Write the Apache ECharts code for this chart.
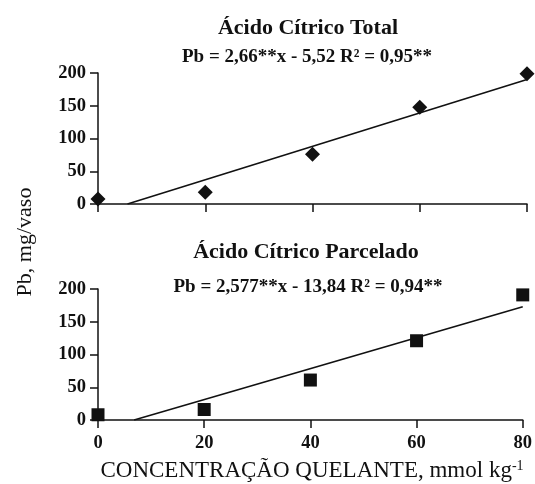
<!DOCTYPE html>
<html><head><meta charset="utf-8">
<script src="https://cdn.jsdelivr.net/npm/echarts@6/dist/echarts.min.js"></script>
<style>html,body{margin:0;padding:0;background:#fff}#c{width:535px;height:484px}</style>
</head><body><div id="c"></div>
<script>
const concentrations = [0, 20, 40, 60, 80];
const pbTotal = [7.6, 17.8, 76, 147.7, 198.8];
const pbParcelado = [8, 16, 61, 121, 191];
const fitTotalX = [5.5, 80];
const fitTotalY = [0, 190];
const fitParceladoX = [6.8, 80];
const fitParceladoY = [0, 173];
const xTickLabels = ['0', '20', '40', '60', '80'];
const titles = ['Ácido Cítrico Total', 'Ácido Cítrico Parcelado'];
const equations = ['Pb = 2,66**x - 5,52 R² = 0,95**', 'Pb = 2,577**x - 13,84 R² = 0,94**'];
const yName = 'Pb, mg/vaso';
const xName = 'CONCENTRAÇÃO QUELANTE, mmol kg';
const xNameSup = '-1';

const SERIF = '"Liberation Serif","Times New Roman",serif';
const zip = (a, b) => a.map((v, i) => [v, b[i]]);

function xAx(i, showLabel) {
  return {
    gridIndex: i, type: 'value', min: 0, max: 80, interval: 20,
    axisLine: { lineStyle: { color: '#111', width: 1.5 } },
    axisTick: { length: 8, lineStyle: { color: '#111', width: 1.5 } },
    splitLine: { show: false },
    axisLabel: {
      show: showLabel, margin: 14, color: '#111',
      fontFamily: SERIF, fontWeight: 'bold', fontSize: 18.5,
      formatter: v => xTickLabels[concentrations.indexOf(v)] ?? ''
    }
  };
}
function yAx(i) {
  return {
    gridIndex: i, type: 'value', min: 0, max: 200, interval: 50,
    axisLine: { show: true, lineStyle: { color: '#111', width: 1.5 } },
    axisTick: { show: true, length: 8, lineStyle: { color: '#111', width: 1.5 } },
    splitLine: { show: false },
    axisLabel: { margin: 12, color: '#111', fontFamily: SERIF, fontWeight: 'bold', fontSize: 18.5 }
  };
}

const chart = echarts.init(document.getElementById('c'), null, { renderer: 'canvas' });
chart.setOption({
  backgroundColor: '#fff',
  animation: false,
  grid: [
    { left: 98, top: 73, width: 429, height: 131 },
    { left: 98, top: 289, width: 428, height: 131 }
  ],
  xAxis: [xAx(0, false), xAx(1, true)],
  yAxis: [yAx(0), yAx(1)],
  graphic: [
    { type: 'text', x: 308, y: 28, style: { text: titles[0], align: 'center', verticalAlign: 'middle', font: 'bold 22px ' + SERIF, fill: '#111' } },
    { type: 'text', x: 307, y: 57, style: { text: equations[0], align: 'center', verticalAlign: 'middle', font: 'bold 19px ' + SERIF, fill: '#111' } },
    { type: 'text', x: 306, y: 252, style: { text: titles[1], align: 'center', verticalAlign: 'middle', font: 'bold 22px ' + SERIF, fill: '#111' } },
    { type: 'text', x: 308, y: 287, style: { text: equations[1], align: 'center', verticalAlign: 'middle', font: 'bold 19px ' + SERIF, fill: '#111' } },
    { type: 'text', x: 25, y: 242, rotation: Math.PI / 2, style: { text: yName, align: 'center', verticalAlign: 'middle', font: '22px ' + SERIF, fill: '#111' } },
    { type: 'text', x: 312, y: 471, style: {
        text: xName + '{sup|' + xNameSup + '}', align: 'center', verticalAlign: 'middle',
        font: '23px ' + SERIF, fill: '#111',
        rich: { sup: { fontSize: 14, verticalAlign: 'top', fontFamily: SERIF, fill: '#111' } }
    } }
  ],
  series: [
    { type: 'line', xAxisIndex: 0, yAxisIndex: 0, data: zip(fitTotalX, fitTotalY), showSymbol: false, lineStyle: { color: '#111', width: 1.6 }, z: 2 },
    { type: 'scatter', xAxisIndex: 0, yAxisIndex: 0, data: zip(concentrations, pbTotal), symbol: 'diamond', symbolSize: 15, itemStyle: { color: '#111', opacity: 1 }, z: 3 },
    { type: 'line', xAxisIndex: 1, yAxisIndex: 1, data: zip(fitParceladoX, fitParceladoY), showSymbol: false, lineStyle: { color: '#111', width: 1.6 }, z: 2 },
    { type: 'scatter', xAxisIndex: 1, yAxisIndex: 1, data: zip(concentrations, pbParcelado), symbol: 'rect', symbolSize: 13, itemStyle: { color: '#111', opacity: 1 }, z: 3 }
  ]
});
</script></body></html>
